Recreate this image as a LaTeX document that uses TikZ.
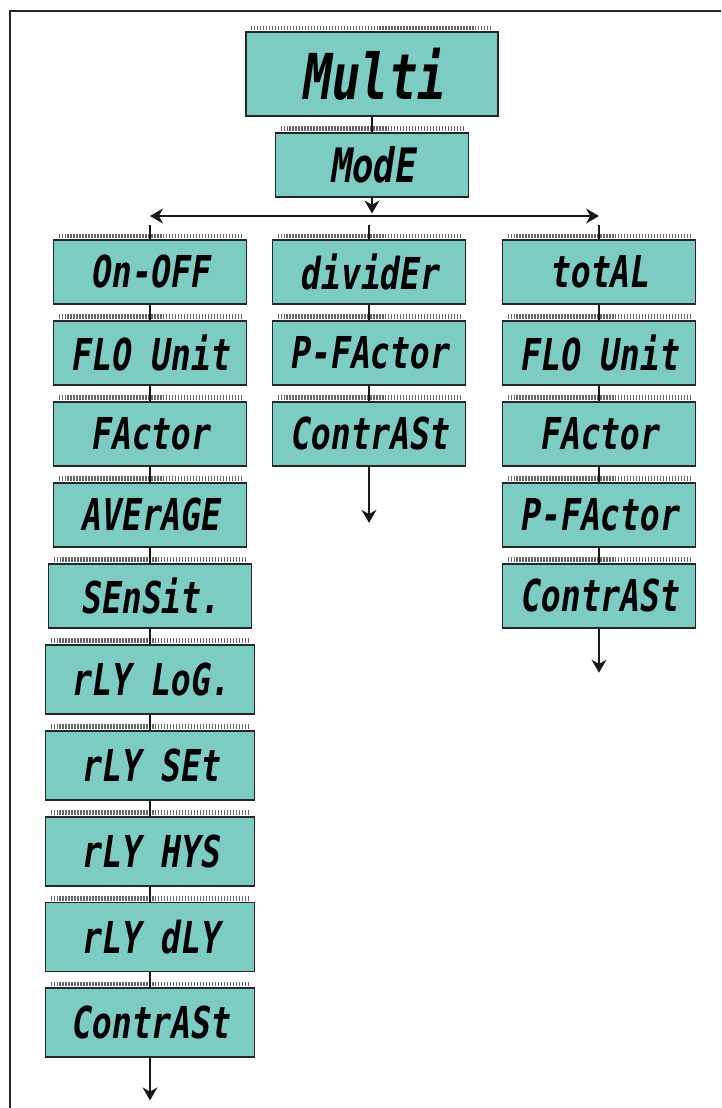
\documentclass[tikz,border=0pt]{standalone}
\usepackage{fontspec}
\newfontfamily\lcdfont[FakeStretch=0.75,FakeSlant=0.15]{DejaVu Sans Mono}
\usetikzlibrary{arrows.meta,positioning}
\definecolor{lcdgreen}{RGB}{125,204,195}
\tikzstyle{lcd}=[
	rectangle,
	draw=black!85,
	line width=1.1pt,
	fill=lcdgreen,
	inner sep=1pt,
	minimum width=3.86cm,
	minimum height=1.28cm,
	font=\lcdfont\bfseries\fontsize{25}{25}\selectfont]
\tikzstyle{lcdlong}=[
	lcd,
	minimum width=4.18cm,
	minimum height=1.38cm]
\tikzstyle{combline}=[
	draw=black!60,
	line width=0.09cm,
	dash pattern=on 0.8pt off 0.9pt]
\tikzstyle{link}=[
	draw=black!90,
	line width=0.7pt]
\newcommand{\lcdpins}[1]{\draw[combline] ([xshift=0.12cm,yshift=0.065cm]#1.north west) -- ([xshift=-0.12cm,yshift=0.065cm]#1.north east);}

\begin{document}
\begin{tikzpicture}[node distance=0.3cm,>={Stealth[length=0.26cm,width=0.3cm]}]
	\useasboundingbox (0,0) rectangle (14.42,-22.16);
	\draw[black!85,line width=1.1pt] (0.2,-22.16) -- (0.2,-0.22) -- (14.42,-0.22);
	% kopf
	\node[lcd,minimum width=5.04cm,minimum height=1.68cm,font=\lcdfont\bfseries\fontsize{36}{36}\selectfont] (multi) at (7.44,-1.48) {Multi};
	\node[lcd,font=\lcdfont\bfseries\fontsize{27}{27}\selectfont] (mode) [below=of multi] {ModE};
	\coordinate (fork) at (7.44,-4.32);
	% linke spalte
	\node[lcd]	(onoff)	at (3.0,-5.44)	{On-OFF};
	\node[lcd]	(flounitA)	[below=of onoff]	{FLO Unit};
	\node[lcd]	(factorA)	[below=of flounitA]	{FActor};
	\node[lcd]	(average)	[below=of factorA]	{AVErAGE};
	\node[lcd,minimum width=4.06cm]	(sensit)	[below=of average]	{SEnSit.};
	\node[lcdlong]	(rlylog)	[below=of sensit]	{rLY LoG.};
	\node[lcdlong]	(rlyset)	[below=of rlylog]	{rLY SEt};
	\node[lcdlong]	(rlyhys)	[below=of rlyset]	{rLY HYS};
	\node[lcdlong]	(rlydly)	[below=of rlyhys]	{rLY dLY};
	\node[lcdlong]	(contrastA)	[below=of rlydly]	{ContrASt};
	\coordinate (endA) at ([yshift=-0.84cm]contrastA.south);
	% mittlere spalte
	\node[lcd]	(divider)	at (7.38,-5.44)	{dividEr};
	\node[lcd]	(pfactorB)	[below=of divider]	{P-FActor};
	\node[lcd]	(contrastB)	[below=of pfactorB]	{ContrASt};
	\coordinate (endB) at ([yshift=-1.12cm]contrastB.south);
	% rechte spalte
	\node[lcd]	(total)	at (11.98,-5.44)	{totAL};
	\node[lcd]	(flounitC)	[below=of total]	{FLO Unit};
	\node[lcd]	(factorC)	[below=of flounitC]	{FActor};
	\node[lcd]	(pfactorC)	[below=of factorC]	{P-FActor};
	\node[lcd]	(contrastC)	[below=of pfactorC]	{ContrASt};
	\coordinate (endC) at ([yshift=-0.88cm]contrastC.south);
	% anschluesse
	\foreach \n in {multi,mode,onoff,flounitA,factorA,average,sensit,rlylog,rlyset,rlyhys,rlydly,contrastA,divider,pfactorB,contrastB,total,flounitC,factorC,pfactorC,contrastC}
		\lcdpins{\n};
	\draw[link] (multi) -- (mode);
	\draw[link,->] (mode) -- ([yshift=0.05cm]fork);
	\draw[link,<->] (onoff.north |- fork) -- (total.north |- fork);
	\foreach \n in {onoff,divider,total}
		\draw[link] (\n.north) -- ([yshift=0.28cm]\n.north);
	\foreach \a/\b in {onoff/flounitA,flounitA/factorA,factorA/average,average/sensit,sensit/rlylog,rlylog/rlyset,rlyset/rlyhys,rlyhys/rlydly,rlydly/contrastA,divider/pfactorB,pfactorB/contrastB,total/flounitC,flounitC/factorC,factorC/pfactorC,pfactorC/contrastC}
		\draw[link] (\a) -- (\b);
	\draw[link,->] (contrastA) -- (endA);
	\draw[link,->] (contrastB) -- (endB);
	\draw[link,->] (contrastC) -- (endC);
\end{tikzpicture}
\end{document}
